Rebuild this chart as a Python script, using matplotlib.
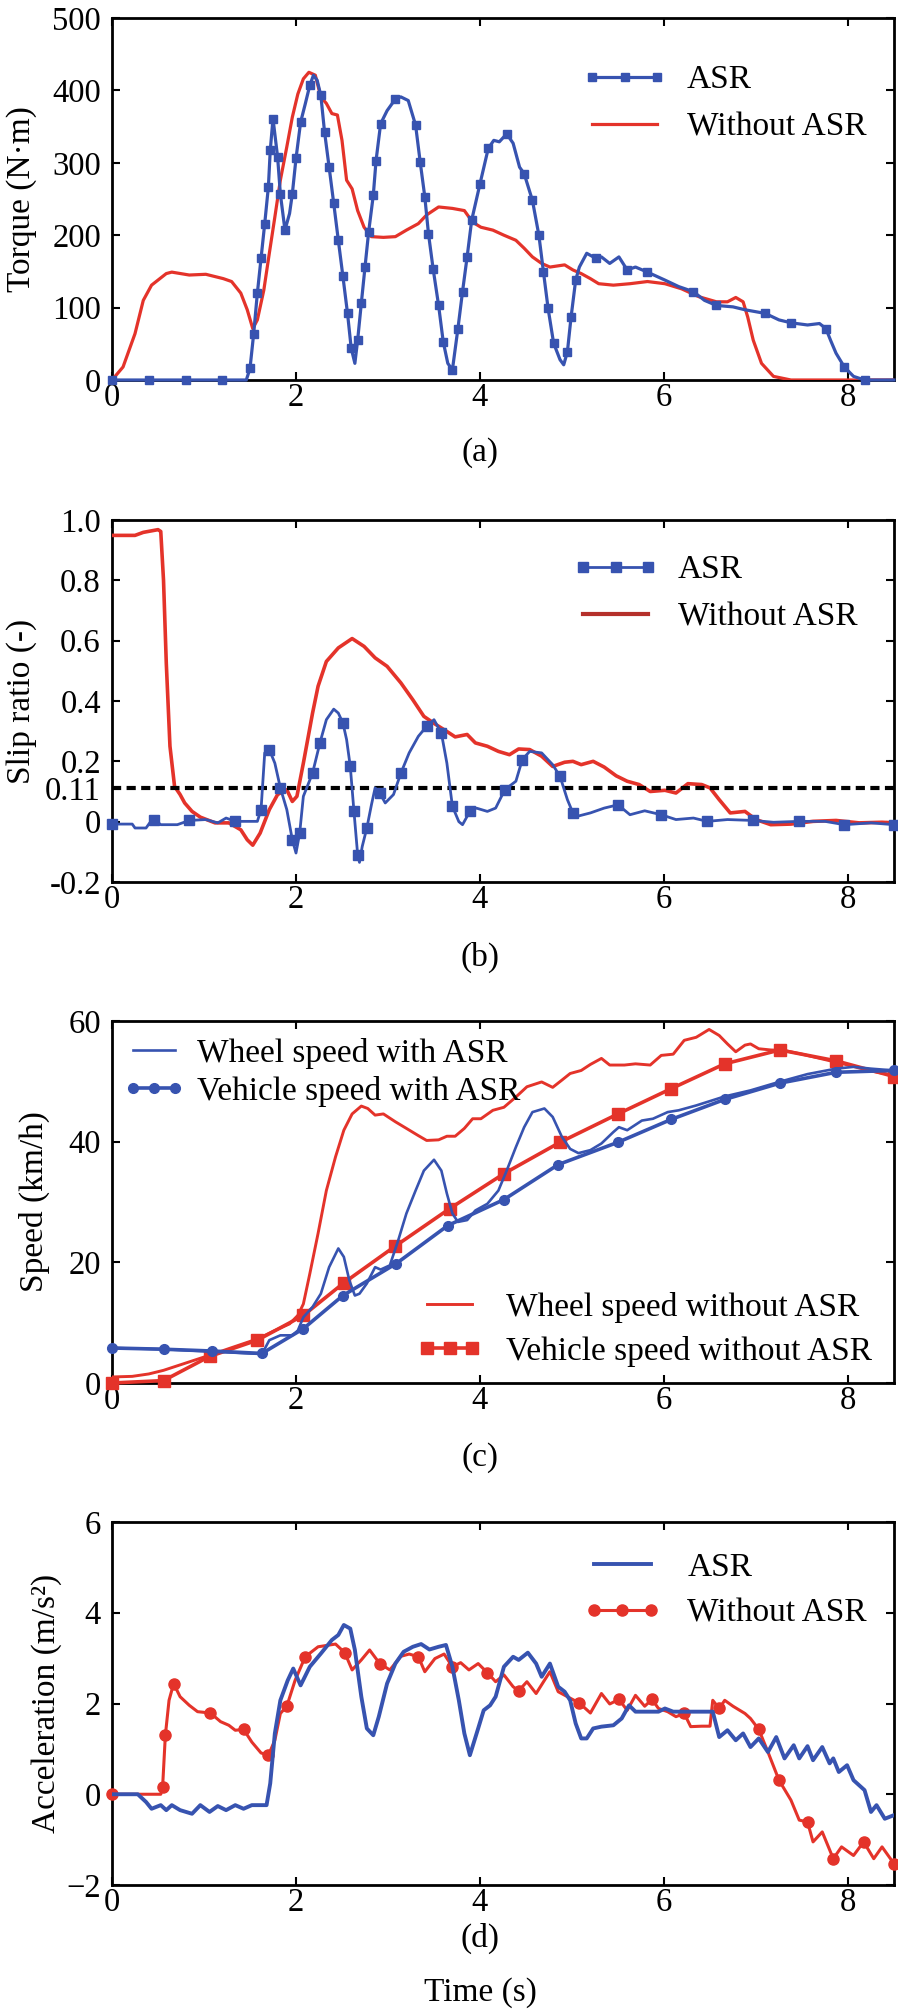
"""ASR test run: torque, slip ratio, speed and acceleration against time."""
import matplotlib

matplotlib.use("Agg")

import matplotlib.pyplot as plt
from matplotlib.lines import Line2D

# ---- (a) torque -----------------------------------------------------------
t_torque_asr = [0, 0.4, 0.8, 1.2, 1.46, 1.50, 1.54, 1.58, 1.62, 1.66, 1.70, 1.72, 1.75, 1.80,
                1.83, 1.88, 1.93, 1.96, 2.00, 2.05, 2.10, 2.15, 2.19, 2.23, 2.27, 2.31, 2.36,
                2.41, 2.46, 2.51, 2.56, 2.60, 2.64, 2.67, 2.71, 2.75, 2.79, 2.84, 2.87, 2.92,
                2.99, 3.08, 3.14, 3.22, 3.30, 3.35, 3.40, 3.44, 3.49, 3.55, 3.60, 3.65, 3.70,
                3.76, 3.81, 3.86, 3.91, 4.00, 4.09, 4.15, 4.21, 4.29, 4.36, 4.43, 4.48, 4.57,
                4.64, 4.69, 4.74, 4.80, 4.87, 4.91, 4.95, 4.99, 5.04, 5.08, 5.16, 5.26, 5.32,
                5.41, 5.51, 5.60, 5.69, 5.82, 6.01, 6.16, 6.32, 6.44, 6.57, 6.75, 6.88, 7.10,
                7.25, 7.38, 7.56, 7.69, 7.76, 7.81, 7.87, 7.96, 8.06, 8.18, 8.5]
torque_asr = [0, 0, 0, 0, 0, 16, 64, 120, 168, 216, 267, 317, 361, 308,
              257, 207, 230, 257, 306, 356, 381, 407, 421, 414, 393, 343, 294,
              244, 193, 143, 92, 44, 23, 55, 106, 156, 205, 255, 303, 354,
              372, 388, 391, 386, 352, 301, 253, 202, 154, 103, 53, 23, 14,
              71, 122, 170, 221, 271, 320, 331, 329, 340, 327, 294, 285, 248,
              200, 149, 99, 51, 28, 21, 39, 87, 138, 156, 175, 168, 170,
              161, 170, 152, 156, 149, 138, 129, 122, 110, 103, 101, 97, 92,
              83, 79, 76, 78, 71, 55, 37, 18, 5, 0, 0]

t_torque_off = [0, 0.12, 0.25, 0.34, 0.43, 0.59, 0.65, 0.84, 1.02, 1.21, 1.30, 1.40, 1.47,
                1.53, 1.58, 1.65, 1.71, 1.77, 1.83, 1.90, 1.96, 2.02, 2.08, 2.14, 2.21, 2.27,
                2.33, 2.39, 2.45, 2.50, 2.55, 2.61, 2.67, 2.74, 2.82, 2.95, 3.08, 3.20, 3.33,
                3.42, 3.55, 3.70, 3.83, 3.92, 4.01, 4.14, 4.26, 4.39, 4.48, 4.57, 4.67, 4.76,
                4.92, 5.01, 5.10, 5.20, 5.29, 5.45, 5.63, 5.82, 6.01, 6.19, 6.38, 6.57, 6.69,
                6.78, 6.86, 6.91, 6.97, 7.06, 7.19, 7.38, 8.5]
torque_off = [0, 18, 64, 110, 131, 147, 149, 145, 146, 140, 136, 120, 97,
              71, 83, 124, 175, 225, 276, 322, 363, 395, 416, 425, 421, 391,
              382, 368, 366, 331, 276, 264, 234, 211, 198, 197, 198, 207, 216,
              228, 239, 237, 234, 218, 211, 207, 200, 193, 182, 170, 161, 156,
              159, 152, 147, 140, 133, 131, 133, 136, 133, 126, 115, 108, 108,
              114, 108, 87, 55, 23, 5, 0, 0]

# ---- (b) slip ratio -------------------------------------------------------
t_slip_asr = [0, 0.22, 0.25, 0.37, 0.41, 0.46, 0.53, 0.71, 0.84, 1.02, 1.15, 1.24, 1.34,
              1.58, 1.62, 1.66, 1.71, 1.77, 1.83, 1.90, 1.96, 2.00, 2.04, 2.08, 2.18, 2.26,
              2.33, 2.41, 2.46, 2.51, 2.55, 2.59, 2.63, 2.67, 2.69, 2.72, 2.77, 2.82, 2.86,
              2.91, 2.97, 3.06, 3.14, 3.23, 3.33, 3.42, 3.50, 3.58, 3.64, 3.70, 3.77, 3.81,
              3.89, 3.96, 4.08, 4.17, 4.27, 4.39, 4.46, 4.54, 4.67, 4.79, 4.87, 4.95, 5.01,
              5.06, 5.20, 5.35, 5.50, 5.63, 5.79, 5.97, 6.13, 6.32, 6.47, 6.69, 6.97, 7.19,
              7.47, 7.75, 7.96, 8.25, 8.5]
slip_asr = [-0.008, -0.008, -0.021, -0.021, -0.004, 0.007, -0.01, -0.01, 0.004, 0.007, -0.004,
            0.012, 0.001, 0.001, 0.04, 0.228, 0.239, 0.194, 0.112, 0.04, -0.06, -0.104, -0.038,
            0.084, 0.161, 0.261, 0.338, 0.373, 0.36, 0.327, 0.272, 0.183, 0.034, -0.109, -0.135,
            -0.082, -0.021, 0.056, 0.112, 0.095, 0.062, 0.09, 0.161, 0.228, 0.283, 0.316, 0.338,
            0.294, 0.194, 0.051, 0.0, -0.01, 0.034, 0.045, 0.034, 0.045, 0.106, 0.134, 0.206,
            0.233, 0.228, 0.189, 0.15, 0.073, 0.029, 0.018, 0.029, 0.045, 0.056, 0.023, 0.036,
            0.023, 0.007, 0.012, 0.001, 0.007, 0.004, -0.002, 0.001, 0.001, -0.01, -0.004, -0.01]

t_slip_off = [0, 0.25, 0.34, 0.50, 0.53, 0.56, 0.59, 0.63, 0.68, 0.74, 0.79, 0.87, 0.96, 1.12,
              1.27, 1.40, 1.47, 1.53, 1.61, 1.71, 1.80, 1.90, 1.96, 2.01, 2.08, 2.18, 2.24, 2.33,
              2.46, 2.61, 2.74, 2.86, 2.99, 3.14, 3.27, 3.39, 3.52, 3.64, 3.73, 3.86, 3.95, 4.08,
              4.20, 4.32, 4.42, 4.54, 4.67, 4.79, 4.92, 5.01, 5.10, 5.23, 5.35, 5.48, 5.60, 5.73,
              5.85, 6.01, 6.13, 6.26, 6.41, 6.50, 6.60, 6.72, 6.88, 7.00, 7.16, 7.38, 7.62, 7.87,
              8.12, 8.37, 8.5]
slip_off = [0.949, 0.949, 0.959, 0.968, 0.962, 0.80, 0.526, 0.25, 0.117, 0.09, 0.062, 0.034,
            0.015, -0.004, -0.004, -0.027, -0.06, -0.078, -0.038, 0.04, 0.09, 0.106, 0.067, 0.084,
            0.194, 0.36, 0.449, 0.531, 0.576, 0.607, 0.581, 0.543, 0.515, 0.46, 0.404, 0.349,
            0.322, 0.299, 0.281, 0.289, 0.261, 0.25, 0.233, 0.222, 0.241, 0.239, 0.217, 0.183,
            0.197, 0.2, 0.189, 0.2, 0.181, 0.152, 0.134, 0.123, 0.10, 0.104, 0.095, 0.126, 0.123,
            0.112, 0.073, 0.029, 0.034, 0.007, -0.01, -0.008, 0.001, 0.004, -0.004, -0.002, -0.004]

slip_threshold = 0.11
slip_ticks = [-0.2, 0, 0.11, 0.2, 0.4, 0.6, 0.8, 1.0]
slip_tick_labels = ["-0.2", "0", "0.11", "0.2", "0.4", "0.6", "0.8", "1.0"]

# ---- (c) speed ------------------------------------------------------------
t_wheel_asr = [0, 0.56, 1.09, 1.63, 1.71, 1.83, 1.96, 2.02, 2.08, 2.18, 2.27, 2.36, 2.46, 2.52,
               2.58, 2.64, 2.69, 2.77, 2.86, 2.92, 3.02, 3.11, 3.20, 3.30, 3.39, 3.50, 3.58,
               3.64, 3.70, 3.76, 3.86, 3.95, 4.08, 4.20, 4.29, 4.39, 4.48, 4.57, 4.70, 4.79,
               4.89, 4.98, 5.07, 5.20, 5.32, 5.45, 5.51, 5.60, 5.76, 5.88, 6.04, 6.16, 6.35,
               6.66, 6.94, 7.25, 7.56, 7.87, 8.06, 8.25, 8.5]
wheel_asr = [5.8, 5.6, 5.2, 4.8, 7.1, 7.9, 7.9, 8.7, 10.9, 12.6, 14.8, 19.2, 22.3, 20.9,
             17.0, 14.5, 14.8, 16.5, 19.2, 18.8, 19.5, 23.6, 28.1, 31.9, 35.2, 37.0, 35.2,
             31.4, 28.1, 26.7, 27.0, 28.6, 29.7, 31.9, 35.2, 39.1, 42.4, 44.9, 45.5, 44.1,
             40.8, 38.8, 38.1, 38.6, 39.7, 41.6, 42.4, 41.9, 43.5, 43.8, 44.9, 45.2, 46.0,
             47.5, 48.5, 49.9, 51.2, 52.1, 52.4, 52.1, 51.8]

t_vehicle_asr = [0, 0.56, 1.09, 1.63, 2.08, 2.51, 3.09, 3.65, 4.26, 4.85, 5.50, 6.08, 6.66,
                 7.26, 7.87, 8.5]
vehicle_asr = [5.8, 5.6, 5.3, 4.9, 9.0, 14.5, 19.8, 26.1, 30.4, 36.2, 39.9, 43.7, 47.0,
               49.7, 51.5, 51.8]

t_wheel_off = [0, 0.22, 0.40, 0.56, 0.78, 1.06, 1.27, 1.58, 1.77, 1.93, 2.02, 2.08, 2.15, 2.24,
               2.33, 2.43, 2.52, 2.61, 2.71, 2.78, 2.86, 2.95, 3.08, 3.20, 3.33, 3.42, 3.55,
               3.64, 3.73, 3.83, 3.92, 4.01, 4.14, 4.26, 4.39, 4.51, 4.67, 4.79, 4.89, 4.98,
               5.10, 5.20, 5.32, 5.41, 5.57, 5.69, 5.85, 5.97, 6.10, 6.22, 6.35, 6.49, 6.60,
               6.69, 6.78, 6.88, 6.94, 7.03, 7.16, 7.31, 7.50, 7.75, 8.0, 8.25, 8.5]
wheel_off = [1.0, 1.1, 1.5, 2.1, 3.2, 4.6, 5.7, 7.3, 8.7, 9.8, 11.2, 13.1, 18.1, 24.8,
             31.9, 37.5, 41.9, 44.6, 45.9, 45.5, 44.4, 44.6, 43.3, 42.2, 41.0, 40.2, 40.3,
             40.9, 40.9, 42.2, 43.8, 43.8, 45.2, 45.7, 47.4, 49.1, 49.9, 49.0, 50.2, 51.3,
             51.8, 52.8, 53.8, 52.7, 52.7, 52.9, 52.7, 54.3, 54.5, 56.8, 57.3, 58.6, 57.6,
             56.2, 54.9, 56.0, 56.2, 55.4, 55.2, 55.1, 54.5, 53.6, 52.7, 51.7, 51.0]

t_vehicle_off = [0, 0.56, 1.06, 1.58, 2.08, 2.52, 3.08, 3.67, 4.26, 4.87, 5.50, 6.08, 6.66,
                 7.26, 7.87, 8.5]
vehicle_off = [0, 0.4, 4.4, 7.1, 11.2, 16.6, 22.7, 28.9, 34.7, 39.9, 44.6, 48.8, 52.9,
               55.2, 53.4, 50.8]

# ---- (d) acceleration -----------------------------------------------------
t_acc_asr = [0, 0.28, 0.37, 0.43, 0.53, 0.59, 0.65, 0.74, 0.87, 0.96, 1.06, 1.15, 1.24, 1.34,
             1.43, 1.52, 1.68, 1.72, 1.77, 1.83, 1.91, 1.97, 2.05, 2.15, 2.27, 2.39, 2.46,
             2.52, 2.59, 2.64, 2.71, 2.77, 2.84, 2.90, 2.99, 3.08, 3.17, 3.27, 3.36, 3.45,
             3.55, 3.63, 3.70, 3.77, 3.83, 3.89, 3.98, 4.04, 4.11, 4.17, 4.26, 4.36, 4.42,
             4.52, 4.61, 4.67, 4.76, 4.85, 4.92, 4.98, 5.04, 5.10, 5.16, 5.23, 5.32, 5.45,
             5.54, 5.62, 5.69, 5.94, 6.01, 6.10, 6.53, 6.60, 6.69, 6.78, 6.86, 6.94, 7.03,
             7.13, 7.22, 7.31, 7.41, 7.47, 7.56, 7.62, 7.72, 7.80, 7.84, 7.90, 7.99, 8.06,
             8.18, 8.25, 8.31, 8.40, 8.5]
acc_asr = [0, 0, -0.17, -0.32, -0.24, -0.35, -0.24, -0.35, -0.43, -0.24, -0.39, -0.26, -0.35,
           -0.24, -0.32, -0.24, -0.24, 0.24, 1.34, 2.07, 2.51, 2.77, 2.40, 2.81, 3.10, 3.40,
           3.51, 3.73, 3.65, 3.18, 2.15, 1.45, 1.30, 1.71, 2.44, 2.88, 3.14, 3.25, 3.31, 3.19,
           3.25, 3.29, 2.81, 2.07, 1.34, 0.86, 1.45, 1.85, 1.96, 2.15, 2.81, 3.03, 2.96, 3.12,
           2.88, 2.59, 2.88, 2.37, 2.26, 2.07, 1.56, 1.23, 1.23, 1.45, 1.49, 1.52, 1.67, 1.96,
           1.82, 1.82, 1.89, 1.82, 1.82, 1.26, 1.41, 1.19, 1.34, 1.04, 1.23, 0.93, 1.26, 0.79,
           1.08, 0.79, 1.06, 0.75, 1.04, 0.68, 0.79, 0.49, 0.64, 0.31, 0.09, -0.39, -0.24,
           -0.54, -0.46]

t_acc_off = [0, 0.53, 0.55, 0.58, 0.62, 0.67, 0.74, 0.84, 0.93, 1.07, 1.18, 1.27, 1.34, 1.43,
             1.52, 1.62, 1.70, 1.77, 1.83, 1.90, 1.99, 2.10, 2.24, 2.43, 2.53, 2.61, 2.71,
             2.80, 2.91, 3.02, 3.14, 3.23, 3.33, 3.40, 3.51, 3.61, 3.70, 3.79, 3.88, 3.98,
             4.08, 4.17, 4.26, 4.36, 4.42, 4.51, 4.61, 4.70, 4.76, 4.85, 4.95, 5.08, 5.20,
             5.32, 5.41, 5.51, 5.60, 5.69, 5.79, 5.87, 5.94, 6.04, 6.13, 6.22, 6.29, 6.41,
             6.50, 6.53, 6.60, 6.66, 6.75, 6.88, 6.94, 7.03, 7.13, 7.25, 7.38, 7.47, 7.56,
             7.62, 7.72, 7.84, 7.93, 8.06, 8.17, 8.28, 8.37, 8.5]
acc_off = [0, 0, 0.16, 1.30, 2.07, 2.44, 2.15, 1.96, 1.82, 1.79, 1.60, 1.52, 1.41, 1.43,
           1.15, 0.91, 0.86, 1.19, 1.78, 1.94, 2.51, 3.03, 3.25, 3.31, 3.12, 2.74, 2.96,
           3.18, 2.88, 2.74, 3.04, 3.09, 3.03, 2.70, 2.99, 3.09, 2.81, 2.90, 2.74, 2.88,
           2.68, 2.48, 2.63, 2.37, 2.28, 2.48, 2.22, 2.51, 2.70, 2.26, 2.15, 2.01, 1.79,
           2.22, 1.99, 2.09, 1.85, 2.18, 1.94, 2.09, 1.89, 1.82, 1.71, 1.78, 1.49, 1.50,
           1.50, 2.07, 1.89, 2.07, 1.94, 1.78, 1.67, 1.43, 0.93, 0.31, -0.13, -0.57, -0.61,
           -1.05, -0.83, -1.42, -1.16, -1.35, -1.05, -1.42, -1.16, -1.53]
# times at which the circle markers sit on the "without ASR" acceleration curve
t_acc_off_markers = [0, 0.55, 0.58, 0.67, 1.07, 1.43, 1.70, 1.90, 2.10, 2.53, 2.91, 3.33,
                     3.70, 4.08, 4.42, 5.08, 5.51, 5.87, 6.22, 6.60, 7.03, 7.25, 7.56, 7.84,
                     8.17, 8.5]

time_ticks = [0, 2, 4, 6, 8]

BLUE = "#3753b0"
RED = "#e4332a"
DARK_RED = "#b5302b"

W, H = 898, 2012
AX_LEFT, AX_RIGHT = 112, 894


def fig_xy(x, y):
    return (x / W, 1 - y / H)


def add_panel(fig, top, bottom):
    return fig.add_axes([AX_LEFT / W, 1 - bottom / H, (AX_RIGHT - AX_LEFT) / W, (bottom - top) / H])


def style_axes(ax, ylim, yticks, ylabel, ylabel_x, tag, tag_y):
    ax.set_xlim(0, 8.5)
    ax.set_ylim(*ylim)
    ax.set_xticks(time_ticks)
    ax.set_yticks(yticks)
    ax.tick_params(direction="in", top=True, right=True, length=6, width=1.5,
                   labelsize=23.5)
    ax.tick_params(axis="x", pad=2)
    ax.tick_params(axis="y", pad=8)
    for spine in ax.spines.values():
        spine.set_linewidth(2)
        spine.set_zorder(1)
    ax.set_ylabel(ylabel, fontsize=24)
    ax.yaxis.set_label_coords(ylabel_x, 0.5)
    ax.yaxis.label.set(ha="center", va="center")
    ax.set_xlabel(tag, fontsize=24)
    ax.xaxis.set_label_coords(0.4706, tag_y)
    ax.xaxis.label.set(va="center")


def add_legend(ax, fig, handles, labels, anchor, handlelength, textpad, spacing):
    return ax.legend(handles, labels, loc="upper left", bbox_to_anchor=fig_xy(*anchor),
                     bbox_transform=fig.transFigure, frameon=False, borderpad=0,
                     borderaxespad=0, fontsize=24, handlelength=handlelength,
                     handletextpad=textpad, labelspacing=spacing, numpoints=3)


def main():
    plt.rcParams["font.family"] = ["Liberation Serif", "DejaVu Serif"]
    fig = plt.figure(figsize=(W / 100, H / 100), dpi=100)

    # (a) torque
    ax = add_panel(fig, 18, 380)
    red_a, = ax.plot(t_torque_off, torque_off, color=RED, lw=2.3)
    blue_a, = ax.plot(t_torque_asr, torque_asr, color=BLUE, lw=2.3, marker="s", ms=6,
                      markevery=0.042, clip_on=False)
    style_axes(ax, (0, 500), [0, 100, 200, 300, 400, 500], "Torque (N\u00b7m)", -0.115,
               "(a)", -0.2017)
    add_legend(ax, fig, [blue_a, red_a], ["ASR", "Without ASR"], (582, 65), 2.55, 0.6, 0.5)

    # (b) slip ratio
    ax = add_panel(fig, 520, 882)
    ax.plot(t_slip_off, slip_off, color=RED, lw=2.6)
    ax.axhline(slip_threshold, color="black", lw=3, ls=(0, (2.2, 1.3)), zorder=2.5)
    blue_b, = ax.plot(t_slip_asr, slip_asr, color=BLUE, lw=2, marker="s", ms=7.5,
                      markevery=0.053, zorder=3, clip_on=False)
    style_axes(ax, (-0.2, 1.0), slip_ticks, "Slip ratio (-)", -0.115, "(b)", -0.2072)
    ax.set_yticklabels(slip_tick_labels)
    red_b = Line2D([], [], color=DARK_RED, lw=3)
    add_legend(ax, fig, [blue_b, red_b], ["ASR", "Without ASR"], (573, 555), 2.55, 0.6, 0.5)

    # (c) speed
    ax = add_panel(fig, 1021, 1383)
    wheel_off_line, = ax.plot(t_wheel_off, wheel_off, color=RED, lw=2.1)
    vehicle_off_line, = ax.plot(t_vehicle_off, vehicle_off, color=RED, lw=2.6, marker="s",
                                ms=8, clip_on=False)
    wheel_asr_line, = ax.plot(t_wheel_asr, wheel_asr, color=BLUE, lw=1.9)
    vehicle_asr_line, = ax.plot(t_vehicle_asr, vehicle_asr, color=BLUE, lw=2.6, marker="o",
                                ms=7, clip_on=False)
    style_axes(ax, (0, 60), [0, 20, 40, 60], "Speed (km/h)", -0.0997, "(c)", -0.2072)
    upper = add_legend(ax, fig, [wheel_asr_line, vehicle_asr_line],
                       ["Wheel speed with ASR", "Vehicle speed with ASR"],
                       (123, 1038), 1.85, 0.36, 0.2)
    ax.add_artist(upper)
    add_legend(ax, fig, [wheel_off_line, vehicle_off_line],
               ["Wheel speed without ASR", "Vehicle speed without ASR"],
               (417, 1292), 1.95, 0.72, 0.39)

    # (d) acceleration
    ax = add_panel(fig, 1522, 1885)
    marker_idx = [t_acc_off.index(t) for t in t_acc_off_markers]
    red_d, = ax.plot(t_acc_off, acc_off, color=RED, lw=2.2, marker="o", ms=8,
                     markevery=marker_idx, clip_on=False)
    blue_d, = ax.plot(t_acc_asr, acc_asr, color=BLUE, lw=2.8)
    style_axes(ax, (-2, 6), [-2, 0, 2, 4, 6], "Acceleration (m/s\u00b2)", -0.0831, "(d)", -0.146)
    add_legend(ax, fig, [blue_d, red_d], ["ASR", "Without ASR"], (584, 1552), 2.3, 0.8, 0.48)

    fig.text(*fig_xy(480, 1993), "Time (s)", fontsize=24, ha="center", va="center")

    fig.savefig("out.png", dpi=100)
    plt.close(fig)


if __name__ == "__main__":
    main()
